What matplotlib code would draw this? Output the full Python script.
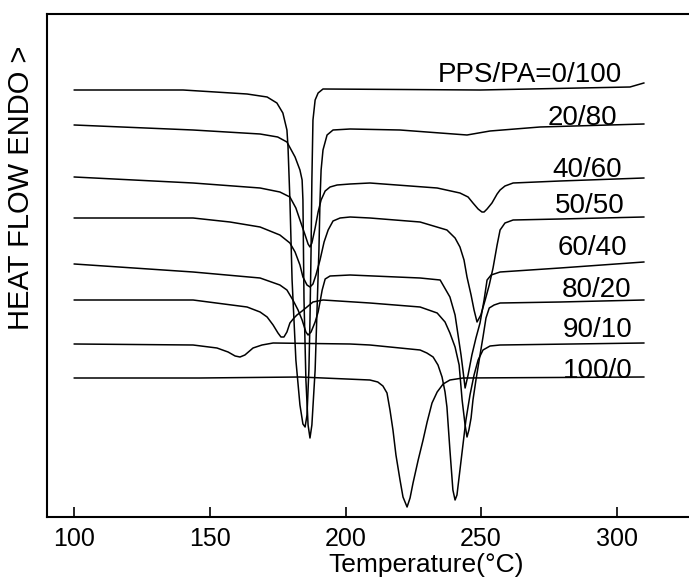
import matplotlib
matplotlib.use("Agg")
import matplotlib.pyplot as plt

plt.rcParams['font.family'] = ['Liberation Sans', 'DejaVu Sans']

# ---- data (temperature in degC, heat flow in a.u., endo up) ----
labels = ["PPS/PA=0/100", "20/80", "40/60", "50/50", "60/40", "80/20", "90/10", "100/0"]

T_0_100 = [100, 140.1, 152.0, 163.7, 171.1, 174.7, 176.9, 178.4, 178.8, 179.5, 180.3, 181.7, 183.2, 184.3,
           185.1, 185.8, 186.5, 186.9, 187.3, 187.6, 188.0, 188.8, 189.9, 191.7, 249.6, 286.5, 304.9, 310]
H_0_100 = [427, 427, 425, 423, 420, 414, 404, 387, 370, 317, 237, 157, 112, 93,
           90, 102, 147, 197, 267, 337, 397, 417, 424, 428, 427, 429, 430, 434]

T_20_80 = [100, 143.8, 168.5, 175.0, 178.4, 181.4, 183.2, 184.0, 184.3, 184.7, 185.4, 186.2, 186.9, 187.6,
           188.8, 189.5, 190.2, 190.6, 191.0, 191.7, 193.2, 195.4, 201.7, 220.1, 234.9, 244.8, 253.3,
           271.7, 310]
H_20_80 = [392, 387, 383, 380, 375, 360, 347, 337, 317, 217, 137, 92, 79, 92,
           147, 207, 267, 317, 347, 367, 382, 387, 388, 387, 384, 382, 386,
           390, 393]

T_40_60 = [100, 143.8, 168.5, 175.8, 179.5, 181.7, 183.2, 185.1, 186.2, 186.9, 187.6, 188.8, 189.9,
           191.0, 192.5, 194.3, 196.9, 201.7, 209.0, 233.8, 242.2, 245.2, 247.0, 248.9, 250.3, 251.1,
           252.2, 254.0, 255.9, 257.0, 258.8, 261.8, 279.1, 310]
H_40_60 = [340, 334, 329, 325, 320, 309, 297, 282, 273, 270, 274, 289, 305,
           317, 326, 330, 332, 333, 334, 329, 324, 320, 314, 308, 305, 305,
           308, 314, 323, 327, 331, 334, 336, 339]

T_50_50 = [100, 143.8, 157.4, 168.5, 175.8, 179.5, 181.4, 183.2, 184.3, 185.8, 186.9, 188.0, 189.1,
           190.6, 192.1, 193.6, 195.4, 198.0, 201.7, 209.0, 227.5, 237.4, 240.4, 242.2, 243.7, 244.8,
           246.3, 247.4, 248.5, 249.9, 251.5, 253.0, 254.4, 255.9, 257.0, 258.8, 261.8, 279.1, 310]
H_50_50 = [299, 299, 295, 290, 282, 274, 265, 252, 240, 232, 230, 233, 242,
           257, 275, 287, 296, 299, 300, 299, 295, 287, 279, 270, 257, 240,
           222, 207, 195, 202, 217, 232, 249, 272, 287, 294, 297, 298, 300]

T_60_40 = [100, 143.8, 168.5, 175.8, 178.4, 180.6, 182.5, 184.0, 185.4, 186.2, 187.3, 188.8, 189.9,
           190.6, 191.4, 192.5, 194.3, 201.7, 227.5, 234.9, 238.5, 240.4, 241.5, 242.6, 243.3, 244.1,
           245.2, 246.6, 248.1, 249.6, 251.1, 252.2, 253.7, 257.0, 279.1, 310]
H_60_40 = [253, 245, 239, 232, 227, 217, 207, 197, 185, 182, 185, 195, 205,
           215, 227, 238, 241, 242, 239, 237, 220, 202, 182, 162, 147, 129,
           142, 162, 179, 194, 217, 237, 242, 245, 249, 255]

T_80_20 = [100, 143.8, 163.7, 168.5, 171.1, 173.3, 175.1, 176.2, 177.3, 178.4, 179.5, 181.0, 182.1,
           184.0, 185.8, 188.0, 191.7, 209.0, 227.5, 233.8, 236.7, 238.5, 240.4, 241.9, 243.0, 244.1,
           244.8, 245.5, 246.3, 247.0, 248.1, 249.6, 250.7, 251.8, 253.0, 254.8, 257.0, 279.1, 310]
H_80_20 = [217, 217, 210, 205, 200, 192, 184, 180, 180, 185, 194, 199, 202,
           206, 210, 215, 217, 214, 210, 204, 195, 184, 170, 152, 117, 92,
           80, 87, 99, 117, 137, 162, 180, 199, 209, 212, 214, 215, 217]

T_90_10 = [100, 143.8, 152.6, 156.7, 159.3, 161.1, 162.9, 165.9, 169.2, 173.3, 201.7, 209.0, 227.5,
           230.0, 232.3, 234.1, 235.6, 236.7, 237.4, 238.5, 239.6, 240.4, 241.1, 242.2, 243.3, 244.4,
           245.9, 247.4, 248.9, 250.7, 253.3, 257.0, 310]
H_90_10 = [173, 172, 169, 165, 161, 160, 162, 169, 172, 174, 173, 172, 167,
           164, 160, 152, 140, 125, 110, 67, 27, 17, 22, 47, 72, 97,
           122, 142, 157, 167, 171, 172, 174]

T_100_0 = [100, 146.3, 183.2, 209.0, 211.9, 213.8, 215.3, 216.4, 217.5, 218.6, 220.1, 221.2, 222.7,
           223.8, 224.9, 226.8, 228.6, 230.1, 231.9, 233.8, 236.0, 238.5, 243.3, 310]
H_100_0 = [139, 139, 140, 137, 135, 131, 124, 107, 87, 62, 37, 20, 10,
           19, 34, 57, 77, 95, 114, 125, 133, 137, 139, 140]

series_T = [T_0_100, T_20_80, T_40_60, T_50_50, T_60_40, T_80_20, T_90_10, T_100_0]
series_H = [H_0_100, H_20_80, H_40_60, H_50_50, H_60_40, H_80_20, H_90_10, H_100_0]

xticks = [100, 150, 200, 250, 300]

# label anchor positions (layout)
label_x = [234.1, 274.7, 276.1, 277.2, 278.3, 279.8, 280.2, 280.2]
label_y = [435, 392, 340, 304, 262, 220, 180, 139]

# ---- figure ----
fig = plt.figure(figsize=(6.89, 5.81), dpi=100)
ax = fig.add_axes([47 / 689, 64 / 581, 642 / 689, 503 / 581])

for T, H in zip(series_T, series_H):
    ax.plot(T, H, color='black', lw=1.1, solid_joinstyle='round')

for lab, lx, ly in zip(labels, label_x, label_y):
    ax.text(lx, ly, lab, fontsize=20, ha='left', va='baseline', color='black')

ax.set_xlim(89.93, 326.66)
ax.set_ylim(0, 503)
ax.set_xticks(xticks)
ax.set_xticklabels([str(t) for t in xticks], fontsize=18)
ax.set_yticks([])
ax.tick_params(axis='x', direction='in', length=7, width=1.2, pad=7)
ax.spines['right'].set_visible(False)
for s in ['top', 'left', 'bottom']:
    ax.spines[s].set_linewidth(1.5)

fig.text(21 / 689, 1 - 188 / 581, "HEAT FLOW ENDO >", rotation=90, fontsize=21,
         ha='center', va='center')
fig.text(426 / 689, 1 - 572 / 581, "Temperature(°C)", fontsize=19, ha='center', va='baseline')

fig.savefig("out.png", dpi=100)
